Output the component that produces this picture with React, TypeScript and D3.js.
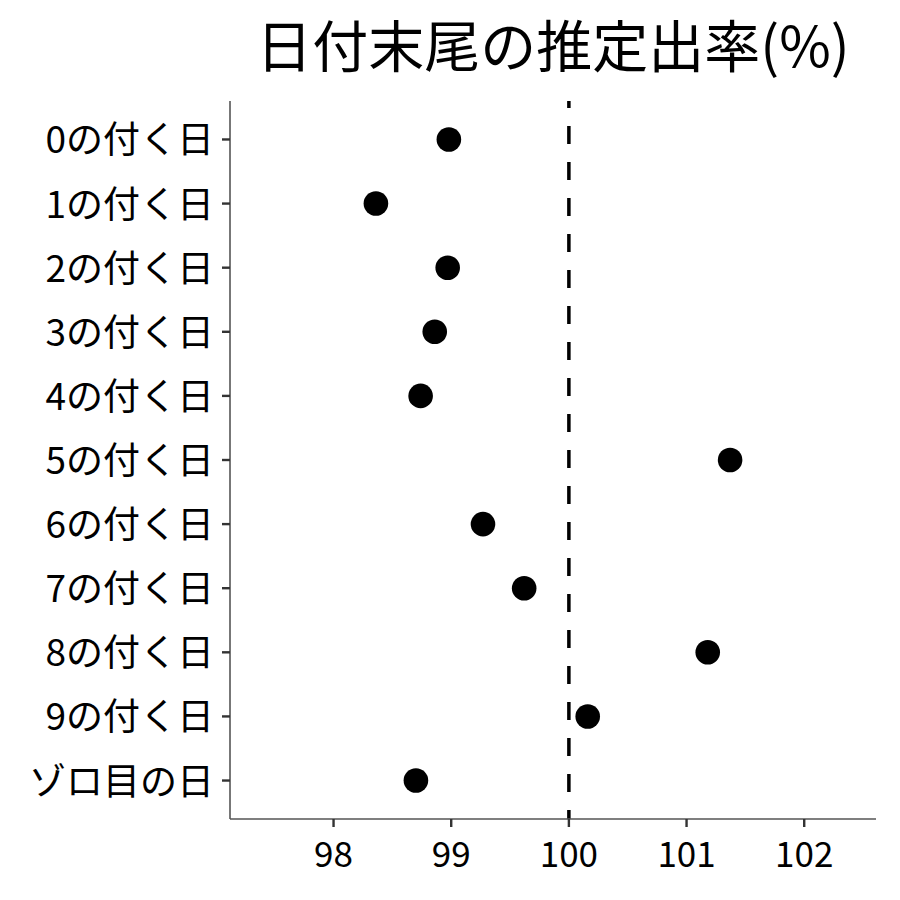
import * as d3 from "d3"

const categories = ["0の付く日", "1の付く日", "2の付く日", "3の付く日", "4の付く日", "5の付く日", "6の付く日", "7の付く日", "8の付く日", "9の付く日", "ゾロ目の日"]
const rates = [98.98, 98.36, 98.97, 98.86, 98.74, 101.37, 99.27, 99.62, 101.18, 100.16, 98.70]
const xTicks = [98, 99, 100, 101, 102]
const xDomain = [97.12, 102.61]
const refValue = 100
const title = "日付末尾の推定出率(%)"

const FONT = "'Noto Sans CJK JP', 'Noto Sans', sans-serif"

export default function App() {
  const width = 900
  const height = 900
  const left = 230, right = 876, top = 101, bottom = 819

  const x = d3.scaleLinear().domain(xDomain).range([left, right])
  // ggplot-like discrete scale: 0.6 step padding on each end
  const step = (bottom - top) / (categories.length - 1 + 1.2)
  const y = (i: number) => top + step * (0.6 + i)

  return (
    <svg width={width} height={height} style={{ position: "absolute", left: 0, top: 0, background: "#fff" }} fontFamily={FONT}>
      <text x={(left + right) / 2} y={67} textAnchor="middle" fontSize={56} fill="#000">{title}</text>

      {/* reference line */}
      <line x1={x(refValue)} x2={x(refValue)} y1={top} y2={bottom} stroke="#000" strokeWidth={3.5} strokeDasharray="18,18" strokeDashoffset={11} />

      {/* axes */}
      <line x1={left} x2={left} y1={top} y2={bottom} stroke="#555" strokeWidth={1.6} />
      <line x1={left} x2={right} y1={bottom} y2={bottom} stroke="#555" strokeWidth={1.6} />

      {categories.map((c, i) => (
        <g key={c}>
          <line x1={left - 8} x2={left} y1={y(i)} y2={y(i)} stroke="#333" strokeWidth={2.4} />
          <text x={left - 16} y={y(i) + 14} textAnchor="end" fontSize={37} fill="#000">{c}</text>
        </g>
      ))}

      {xTicks.map(t => (
        <g key={t}>
          <line x1={x(t)} x2={x(t)} y1={bottom} y2={bottom + 8} stroke="#333" strokeWidth={2.4} />
          <text x={x(t)} y={bottom + 48} textAnchor="middle" fontSize={35} fill="#000">{t}</text>
        </g>
      ))}

      {rates.map((v, i) => (
        <circle key={i} cx={x(v)} cy={y(i)} r={12.3} fill="#000" />
      ))}
    </svg>
  )
}
